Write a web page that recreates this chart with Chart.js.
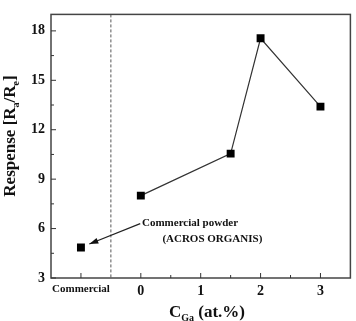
<!DOCTYPE html>
<html>
<head>
<meta charset="utf-8">
<script src="https://cdn.jsdelivr.net/npm/chart.js@4/dist/chart.umd.min.js"></script>
<style>
  html, body { margin: 0; padding: 0; background: #fff; }
  #wrap { width: 356px; height: 321px; }
</style>
</head>
<body>
<div id="wrap"><canvas id="graficoResposta" width="356" height="321"></canvas></div>
<script>
// dados
const gaContent = [0, 1.5, 2, 3];
const gaResponse = [8.0, 10.55, 17.55, 13.4];
const commercialPos = [-1];
const commercialResponse = [4.85];

const xTickValues = [-1, 0, 1, 2, 3];
const xMinorTicks = [0.5, 1.5, 2.5];
const yTickValues = [3, 6, 9, 12, 15, 18];
const yMinorTicks = [4.5, 7.5, 10.5, 13.5, 16.5];
const dividerAt = -0.5;

const noteLines = ["Commercial powder", "(ACROS ORGANIS)"];
const noteAnchor = [[0.02, 6.3], [0.36, 5.35]];
const arrowFrom = [-0.01, 6.3];
const arrowTo = [-0.86, 5.06];

const SERIF = '"Liberation Serif", "Times New Roman", serif';
const corLinha = "#333";

const extrasPlugin = {
  id: "extras",
  afterDraw(chart) {
    const { ctx, chartArea: a, scales: { x, y } } = chart;
    ctx.save();

    // divisoria tracejada
    const xd = x.getPixelForValue(dividerAt);
    ctx.strokeStyle = "#555";
    ctx.lineWidth = 1;
    ctx.setLineDash([3, 2]);
    ctx.beginPath();
    ctx.moveTo(xd, a.top);
    ctx.lineTo(xd, a.bottom);
    ctx.stroke();
    ctx.setLineDash([]);

    // moldura
    ctx.strokeStyle = "#444";
    ctx.lineWidth = 1.5;
    ctx.strokeRect(a.left, a.top, a.right - a.left, a.bottom - a.top);

    // ticks para dentro
    ctx.lineWidth = 1;
    ctx.strokeStyle = "#333";
    ctx.beginPath();
    yTickValues.forEach((v) => {
      const py = y.getPixelForValue(v);
      ctx.moveTo(a.left, py); ctx.lineTo(a.left + 5, py);
    });
    yMinorTicks.forEach((v) => {
      const py = y.getPixelForValue(v);
      ctx.moveTo(a.left, py); ctx.lineTo(a.left + 3, py);
    });
    xTickValues.forEach((v) => {
      const px = x.getPixelForValue(v);
      ctx.moveTo(px, a.bottom); ctx.lineTo(px, a.bottom - 5);
    });
    xMinorTicks.forEach((v) => {
      const px = x.getPixelForValue(v);
      ctx.moveTo(px, a.bottom); ctx.lineTo(px, a.bottom - 3);
    });
    ctx.stroke();

    // anotacao com seta
    const x1 = x.getPixelForValue(arrowFrom[0]), y1 = y.getPixelForValue(arrowFrom[1]);
    const x2 = x.getPixelForValue(arrowTo[0]), y2 = y.getPixelForValue(arrowTo[1]);
    ctx.strokeStyle = "#222";
    ctx.fillStyle = "#111";
    ctx.lineWidth = 1.2;
    ctx.beginPath();
    ctx.moveTo(x1, y1); ctx.lineTo(x2, y2);
    ctx.stroke();
    const ang = Math.atan2(y2 - y1, x2 - x1);
    ctx.beginPath();
    ctx.moveTo(x2, y2);
    ctx.lineTo(x2 - 9 * Math.cos(ang) + 3 * Math.sin(ang), y2 - 9 * Math.sin(ang) - 3 * Math.cos(ang));
    ctx.lineTo(x2 - 9 * Math.cos(ang) - 3 * Math.sin(ang), y2 - 9 * Math.sin(ang) + 3 * Math.cos(ang));
    ctx.closePath();
    ctx.fill();

    ctx.font = "bold 11px " + SERIF;
    ctx.textAlign = "left";
    ctx.textBaseline = "middle";
    noteLines.forEach((t, i) => {
      ctx.fillText(t, x.getPixelForValue(noteAnchor[i][0]), y.getPixelForValue(noteAnchor[i][1]));
    });

    // titulo do eixo x: C_Ga (at.%)
    ctx.textBaseline = "alphabetic";
    const big = "bold 17px " + SERIF, small = "bold 10px " + SERIF;
    const partsX = [["C", big, 0], ["Ga", small, 4], [" (at.%)", big, 0]];
    let w = 0;
    partsX.forEach((p) => { ctx.font = p[1]; w += ctx.measureText(p[0]).width; });
    let cx = 207 - w / 2;
    partsX.forEach((p) => {
      ctx.font = p[1];
      ctx.fillText(p[0], cx, 317 + p[2]);
      cx += ctx.measureText(p[0]).width;
    });

    // titulo do eixo y: Respense [R_a/R_e]
    const partsY = [["Respense [R", big, 0], ["a", small, 4], ["/R", big, 0], ["e", small, 4], ["]", big, 0]];
    w = 0;
    partsY.forEach((p) => { ctx.font = p[1]; w += ctx.measureText(p[0]).width; });
    ctx.translate(15, 136);
    ctx.rotate(-Math.PI / 2);
    let cy = -w / 2;
    partsY.forEach((p) => {
      ctx.font = p[1];
      ctx.fillText(p[0], cy, p[2]);
      cy += ctx.measureText(p[0]).width;
    });

    ctx.restore();
  },
};

new Chart(document.getElementById("graficoResposta"), {
  type: "scatter",
  data: {
    datasets: [
      {
        label: "Ga",
        data: gaContent.map((v, i) => ({ x: v, y: gaResponse[i] })),
        showLine: true,
        borderColor: corLinha,
        borderWidth: 1.2,
        pointStyle: "rect",
        pointRadius: 5.6,
        pointBackgroundColor: "#000",
        pointBorderColor: "#000",
        pointBorderWidth: 0,
      },
      {
        label: "Commercial",
        data: commercialPos.map((v, i) => ({ x: v, y: commercialResponse[i] })),
        showLine: false,
        pointStyle: "rect",
        pointRadius: 5.6,
        pointBackgroundColor: "#000",
        pointBorderColor: "#000",
        pointBorderWidth: 0,
      },
    ],
  },
  options: {
    responsive: false,
    animation: false,
    layout: { padding: { left: 0, right: 2, top: 6, bottom: 0 } },
    plugins: { legend: { display: false }, tooltip: { enabled: false } },
    scales: {
      x: {
        type: "linear",
        min: -1.5,
        max: 3.5,
        afterBuildTicks: (s) => { s.ticks = xTickValues.map((v) => ({ value: v })); },
        afterFit: (s) => { s.height = 43; },
        grid: { display: false, drawTicks: false },
        border: { display: false },
        ticks: {
          padding: 5,
          color: "#111",
          font: (c) => ({ family: SERIF, weight: "bold", size: c.tick && c.tick.value === -1 ? 11 : 14 }),
          callback: (v) => (v === -1 ? "Commercial" : String(v)),
        },
      },
      y: {
        min: 3,
        max: 19,
        afterBuildTicks: (s) => { s.ticks = yTickValues.map((v) => ({ value: v })); },
        afterFit: (s) => { s.width = 51; },
        grid: { display: false, drawTicks: false },
        border: { display: false },
        ticks: {
          padding: 6,
          color: "#111",
          font: { family: SERIF, weight: "bold", size: 14 },
        },
      },
    },
  },
  plugins: [extrasPlugin],
});
</script>
</body>
</html>
